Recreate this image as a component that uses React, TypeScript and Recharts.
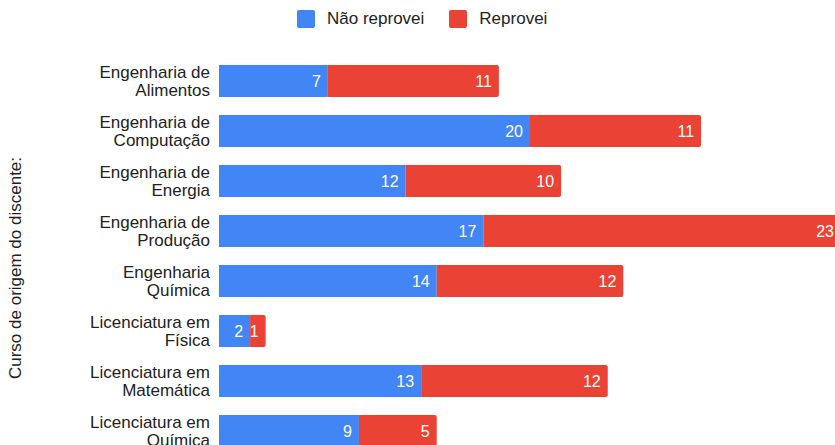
import { BarChart, Bar, XAxis, YAxis, LabelList } from "recharts"

const cursos = [
  "Engenharia de|Alimentos",
  "Engenharia de|Computação",
  "Engenharia de|Energia",
  "Engenharia de|Produção",
  "Engenharia|Química",
  "Licenciatura em|Física",
  "Licenciatura em|Matemática",
  "Licenciatura em|Química",
]
const naoReprovei = [7, 20, 12, 17, 14, 2, 13, 9]
const reprovei = [11, 11, 10, 23, 12, 1, 12, 5]

const BLUE = "#4285F4"
const RED = "#EA4335"
const FONT = "'Liberation Sans', Arial, sans-serif"

const data = cursos.map((curso, i) => ({
  curso,
  nao: naoReprovei[i],
  sim: reprovei[i],
}))

// two-line category label, right aligned
const CursoTick = ({ x, y, payload }: any) => {
  const lines = String(payload.value).split("|")
  return (
    <text x={x - 1} y={y} textAnchor="end" fontSize={17} fill="#222" fontFamily={FONT}>
      <tspan x={x - 1} dy={-3}>{lines[0]}</tspan>
      <tspan x={x - 1} dy={18}>{lines[1]}</tspan>
    </text>
  )
}

export default function App() {
  return (
    <div style={{ position: "absolute", left: 0, top: 0, width: 835, height: 445, overflow: "hidden", background: "#fff" }}>
      {/* legend */}
      <div style={{ position: "absolute", top: 9, left: 297, display: "flex", alignItems: "center", fontFamily: FONT, fontSize: 17, color: "#222" }}>
        <span style={{ width: 18, height: 18, background: BLUE, borderRadius: 2, display: "inline-block" }} />
        <span style={{ marginLeft: 12 }}>Não reprovei</span>
        <span style={{ width: 18, height: 18, background: RED, borderRadius: 2, display: "inline-block", marginLeft: 25 }} />
        <span style={{ marginLeft: 12 }}>Reprovei</span>
      </div>

      {/* axis title */}
      <div style={{ position: "absolute", left: 16, top: 268, transform: "translate(-50%, -50%) rotate(-90deg)", whiteSpace: "nowrap", fontFamily: FONT, fontSize: 17, color: "#222" }}>
        Curso de origem do discente:
      </div>

      <div style={{ position: "absolute", left: 0, top: 0 }}>
        <BarChart
          width={841}
          height={456}
          data={data}
          layout="vertical"
          margin={{ top: 56, right: 0, left: 0, bottom: 0 }}
          barCategoryGap={18}
        >
          <XAxis type="number" domain={[0, 40]} hide />
          <YAxis
            type="category"
            dataKey="curso"
            width={219}
            axisLine={false}
            tickLine={false}
            tick={<CursoTick />}
            interval={0}
          />
          <Bar dataKey="nao" stackId="a" fill={BLUE} barSize={32} isAnimationActive={false}>
            <LabelList dataKey="nao" position="insideRight" offset={7} fill="#fff" fontSize={16} fontFamily={FONT} />
          </Bar>
          <Bar dataKey="sim" stackId="a" fill={RED} barSize={32} radius={[0, 2, 2, 0]} isAnimationActive={false}>
            <LabelList dataKey="sim" position="insideRight" offset={7} fill="#fff" fontSize={16} fontFamily={FONT} />
          </Bar>
        </BarChart>
      </div>
    </div>
  )
}
